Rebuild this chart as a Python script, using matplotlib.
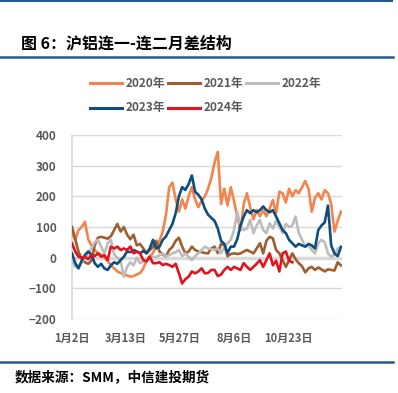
import matplotlib
matplotlib.use("Agg")
import matplotlib.pyplot as plt
from matplotlib.lines import Line2D
import numpy as np

plt.rcParams['font.family'] = ['Noto Sans CJK SC', 'DejaVu Sans']

# ---- data (trading-day index sampled every 3 days) ----
step = 3
tick_days = [0, 50, 100, 150, 200]
tick_labels = ["1月2日", "3月13日", "5月27日", "8月6日", "10月23日"]
series_names = ["2020年", "2021年", "2022年", "2023年", "2024年"]
colors = ["#F5844C", "#9E5E2E", "#BDBDBD", "#0E4E7E", "#E0141E"]

v2020 = [80, 58, 90, 100, 117, 60, 40, 25, 15, 10, 0, -10, -25, -35, -45, -50, -55, -58, -62, -60,
         -55, -50, -35, -10, 5, 15, 40, 55, 85, 140, 230, 245, 190, 150, 190, 160, 200, 230, 190, 165,
         185, 200, 225, 260, 310, 345, 175, 225, 170, 230, 185, 135, 90, 175, 210, 165, 125, 155, 135, 155,
         135, 160, 188, 145, 215, 210, 180, 225, 200, 220, 210, 230, 250, 225, 150, 195, 210, 190, 220, 210,
         175, 85, 120, 150]
v2021 = [100, 60, 20, -5, -15, -20, -10, 40, 65, 68, 65, 62, 70, 90, 110, 85, 100, 75, 60, 75,
         40, 45, 30, 15, 25, 35, 55, 20, 10, 5, 25, 35, 55, 65, 36, 14, 20, 36, 25, 20,
         18, 15, 14, 30, 36, 15, 45, 40, 5, 12, 14, 12, 14, 20, 25, 20, 14, 30, 47, 14,
         55, 68, 63, 25, 14, -8, -30, -8, 14, -5, -18, -28, -48, -35, -30, -40, -32, -38, -45, -38,
         -40, -42, -15, -25]
v2022 = [-8, -30, -30, -15, 0, 14, 30, 50, 58, 36, 14, 47, 58, 10, 0, -10, -62, -30, -15, -25,
         0, -18, -12, -8, 0, 3, 2, 8, 14, 5, 8, 14, 18, 25, 5, 14, 3, -8, 5, 14,
         25, 36, 30, 28, 25, 30, 14, 36, 47, 58, 90, 150, 100, 90, 95, 123, 80, 105, 123, 90,
         80, 112, 95, 120, 101, 80, 110, 100, 105, 134, 80, 58, 36, 40, 25, 14, 47, 58, 50, 14,
         3, 10, 30, 35]
v2023 = [14, -18, -35, -10, 9, 20, 10, -18, -30, -20, -35, -40, -25, -15, -20, -8, 3, 20, 18, 25,
         20, 14, 22, 14, 30, 58, 30, 36, 58, 69, 90, 110, 145, 200, 230, 221, 240, 268, 215, 205,
         190, 160, 140, 130, 120, 95, 55, 45, 15, 36, 36, 60, 105, 134, 155, 145, 155, 148, 155, 167,
         155, 148, 155, 134, 112, 90, 80, 58, 47, 36, 45, 40, 36, 45, 40, 30, 90, 105, 115, 170,
         40, 14, 5, 35]
v2024 = [47, 20, 3, 0, 3, -5, 10, 5, 14, 3, 8, -8, 36, 30, 36, 25, 30, 25, 36, 14,
         20, 14, -8, -12, 3, -18, -18, -15, -24, -20, -24, -30, -20, -51, -84, -70, -62, -45, -51, -45,
         -35, -51, -50, -40, -40, -60, -55, -40, -30, -40, -30, -35, -40, -18, -30, -40, -30, -20, -8, -30,
         -8, 14, -25, -10, -45, 14, 20, -10, -15]
all_series = [v2020, v2021, v2022, v2023, v2024]

W, H = 398, 393
fig = plt.figure(figsize=(W / 100, H / 100), dpi=100)
fig.patch.set_facecolor("white")

def fx(px):
    return px / W

def fy(py):
    return 1 - py / H

ax = fig.add_axes([fx(72), fy(319), fx(342) - fx(72), fy(135) - fy(319)])
ax.set_xlim(0, 250)
ax.set_ylim(-200, 400)
ax.set_yticks([-200, -100, 0, 100, 200, 300, 400])
ax.grid(axis='y', color='#D9D9D9', lw=1.0)
ax.set_axisbelow(True)
ax.axhline(0, color='#D9D9D9', lw=2.5, zorder=1)
for s in ['top', 'right', 'bottom']:
    ax.spines[s].set_visible(False)
ax.spines['left'].set_color('#D9D9D9')
ax.spines['left'].set_linewidth(1.2)
ax.tick_params(axis='both', length=0, colors='#595959', labelsize=8)
ax.tick_params(axis='y', labelsize=8.5, pad=11)
ax.tick_params(axis='x', pad=9)
ax.set_xticks(tick_days)
ax.set_xticklabels(tick_labels)
for lab in ax.get_xticklabels() + ax.get_yticklabels():
    lab.set_fontweight('bold')
    lab.set_color('#595959')

for vals, c in zip(all_series, colors):
    x = np.arange(len(vals)) * step
    ax.plot(x, vals, color=c, lw=1.9, solid_joinstyle='round', zorder=3)

# legend (manual)
for k, (name, c) in enumerate(zip(series_names, colors)):
    row, col = divmod(k, 3)
    x0 = 90 + 78 * col
    y0 = 83 + 25 * row
    fig.add_artist(Line2D([fx(x0), fx(x0 + 32)], [fy(y0), fy(y0)], color=c, lw=2.2))
    fig.text(fx(x0 + 36), fy(y0), name, fontsize=8.5, fontweight='bold', color='#595959',
             va='center', ha='left')

# title and rules
fig.add_artist(Line2D([0, fx(392)], [fy(1), fy(1)], color='#245C8E', lw=1.5))
fig.text(fx(21), fy(43), "图 6：沪铝连一-连二月差结构", fontsize=11.5, fontweight='bold',
         color='black', va='center', ha='left')
fig.add_artist(Line2D([0, fx(393)], [fy(57), fy(57)], color='#245C8E', lw=1.8))
fig.add_artist(Line2D([0, fx(393)], [fy(362), fy(362)], color='#245C8E', lw=1.8))
fig.text(fx(15), fy(377), "数据来源：SMM，中信建投期货", fontsize=9.8, fontweight='bold',
         style='italic', color='black', va='center', ha='left')

fig.savefig("out.png", dpi=100)
